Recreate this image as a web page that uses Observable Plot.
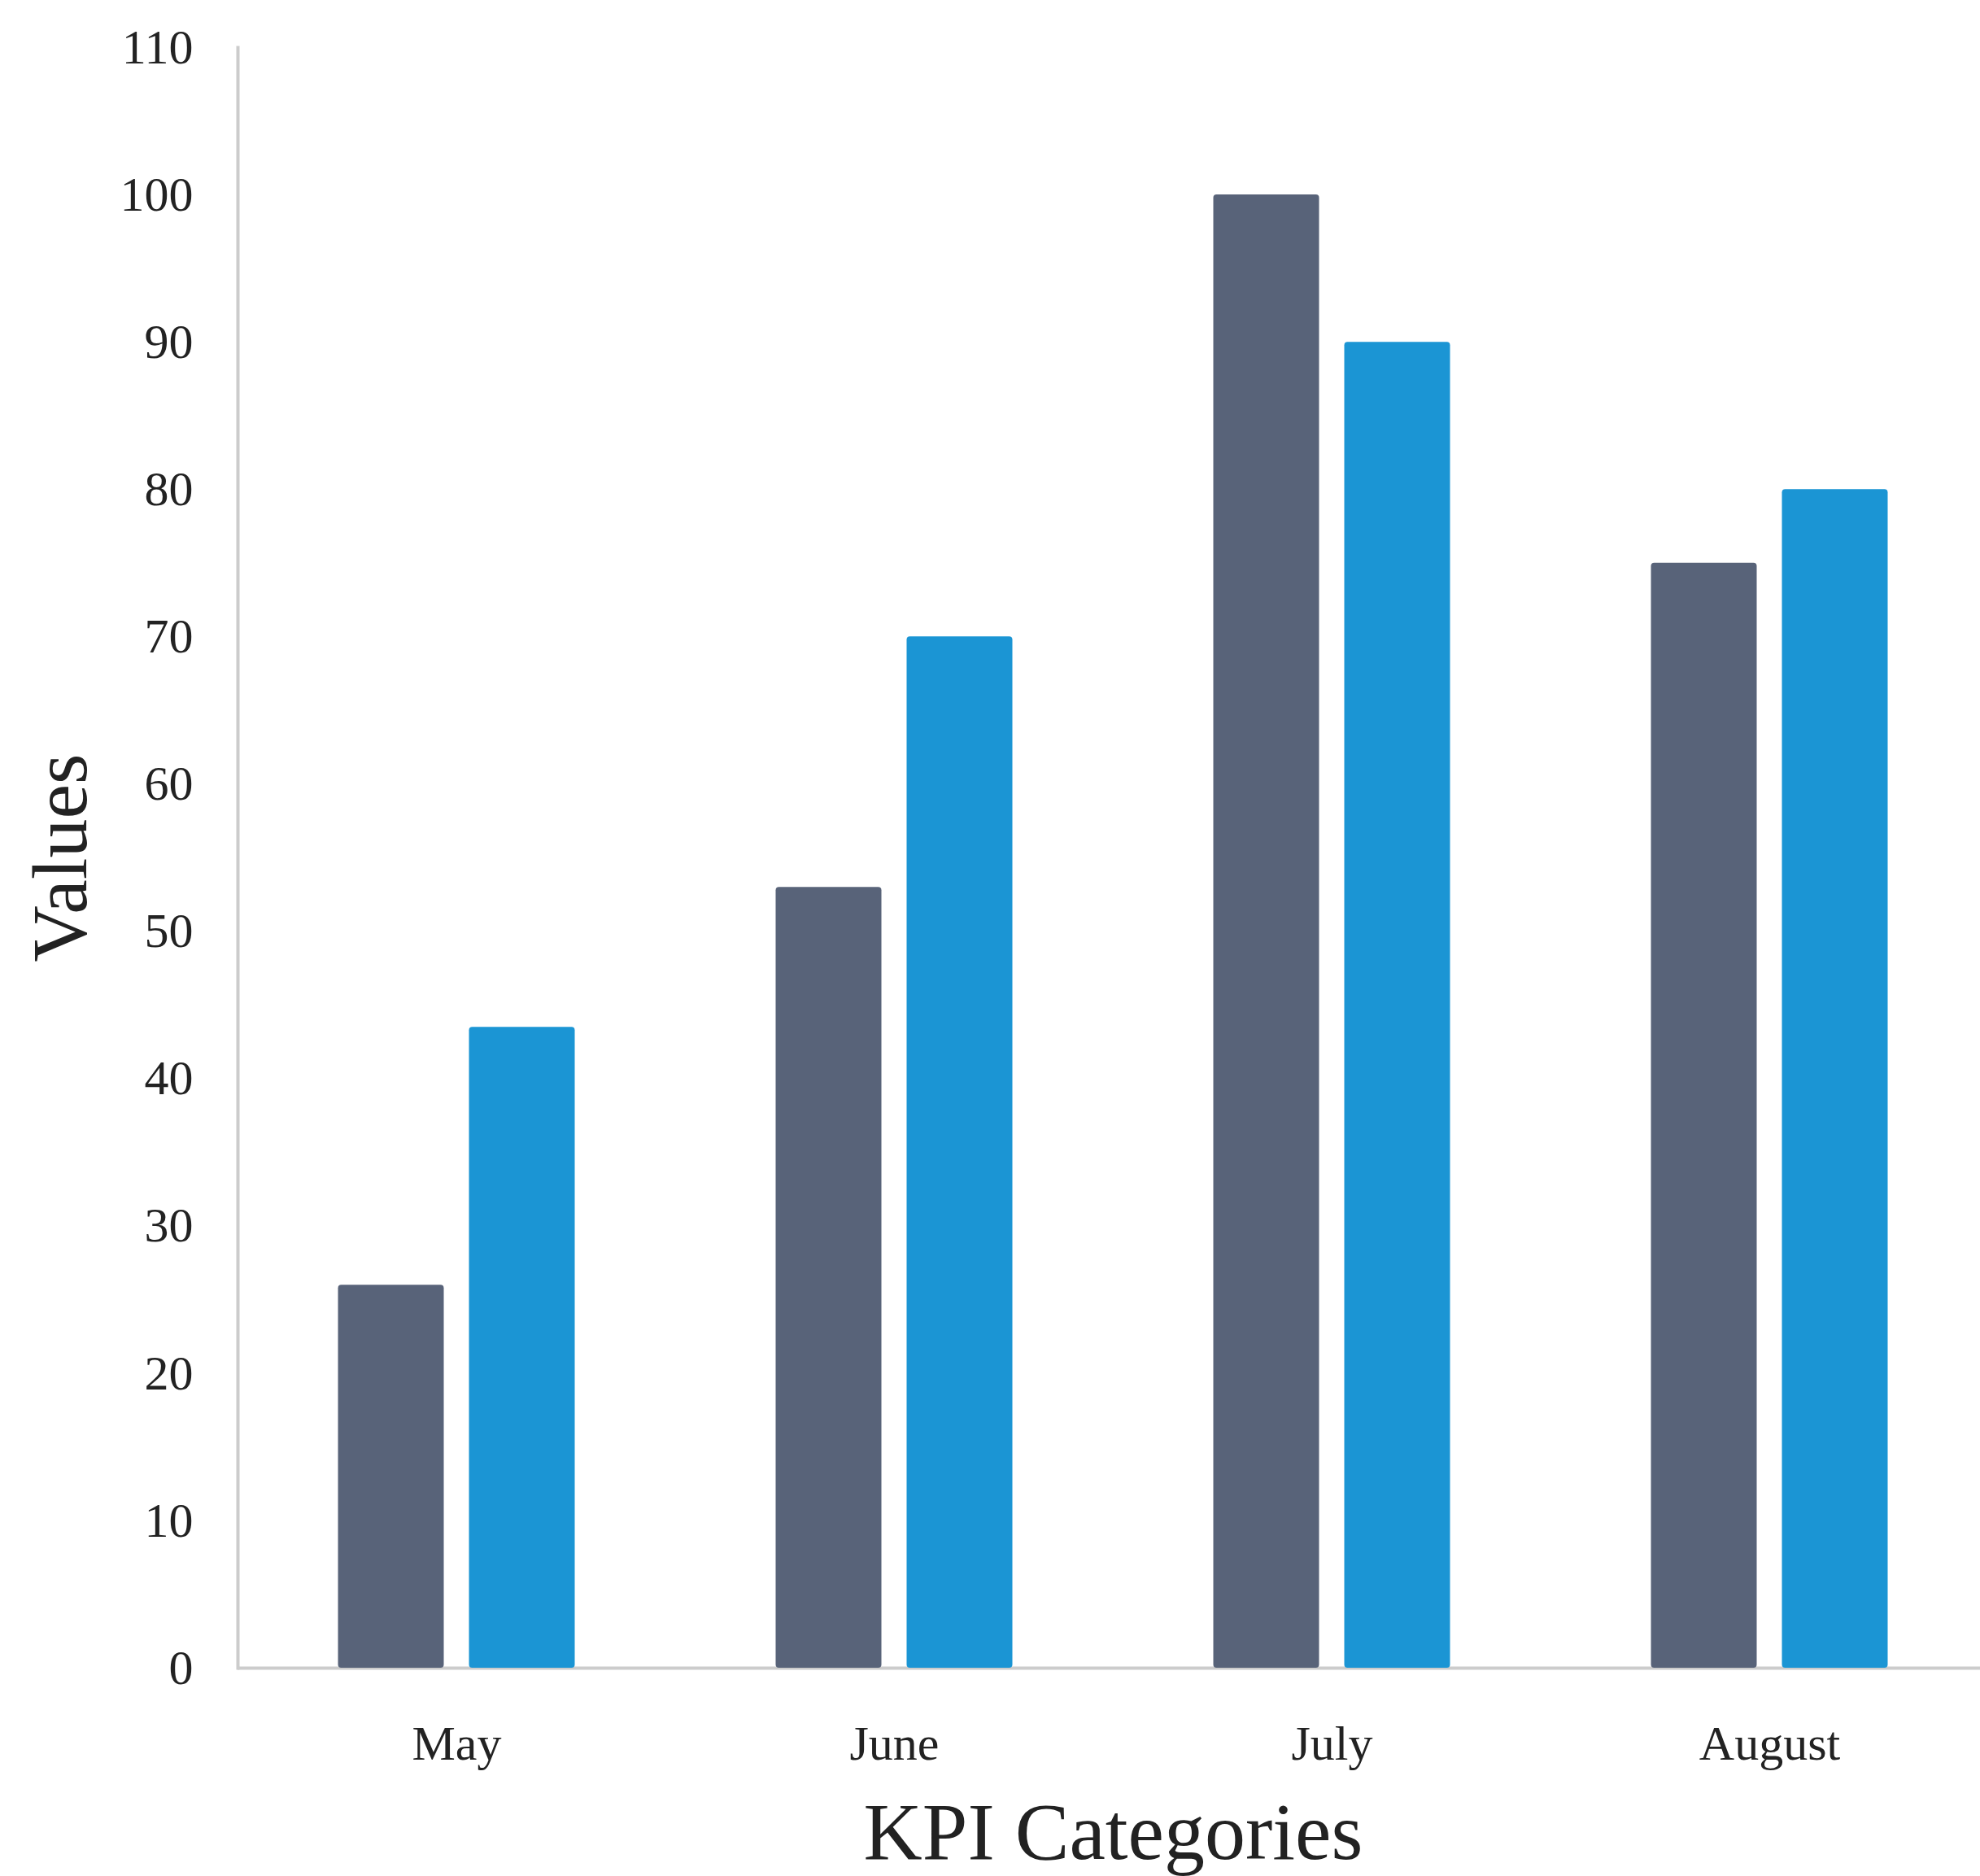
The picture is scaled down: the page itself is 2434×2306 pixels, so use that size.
<!DOCTYPE html>
<html>
<head>
<meta charset="utf-8">
<script src="https://cdn.jsdelivr.net/npm/d3@7"></script>
<script src="https://cdn.jsdelivr.net/npm/@observablehq/plot@0.6"></script>
<style>
  html, body { margin: 0; padding: 0; background: #ffffff; }
  svg { display: block; }
</style>
</head>
<body>
<div id="chart"></div>
<script>
// ---- data ----
const months = ["May", "June", "July", "August"];
const seriesDark = [26, 53, 100, 75];
const seriesBlue = [43.5, 70, 90, 80];
const yTicks = [0, 10, 20, 30, 40, 50, 60, 70, 80, 90, 100, 110];
const xTitle = "KPI Categories";
const yTitle = "Values";

// ---- layout ----
const W = 2434, H = 2306;
const mL = 292, mR = -10, mT = 58, mB = 256;
const step = (W - mL - mR) / months.length;
const barW = 130, gap = 31;
const axisColor = "#cccccc";
const darkColor = "#586379";
const blueColor = "#1b95d4";

const darkData = months.map((m, i) => ({month: m, value: seriesDark[i]}));
const blueData = months.map((m, i) => ({month: m, value: seriesBlue[i]}));

const chart = Plot.plot({
  width: W,
  height: H,
  marginLeft: mL,
  marginRight: mR,
  marginTop: mT,
  marginBottom: mB,
  style: {fontFamily: "'Liberation Serif', 'Times New Roman', serif", background: "#ffffff", color: "#222222"},
  x: {domain: months, padding: 0},
  y: {domain: [0, 110]},
  marks: [
    Plot.frame({anchor: "left", stroke: axisColor, strokeWidth: 4}),
    Plot.ruleY([0], {stroke: axisColor, strokeWidth: 4}),
    Plot.barY(darkData, {
      x: "month", y: "value", fill: darkColor, rx: 4,
      insetLeft: step / 2 - gap / 2 - barW, insetRight: step / 2 + gap / 2
    }),
    Plot.barY(blueData, {
      x: "month", y: "value", fill: blueColor, rx: 4,
      insetLeft: step / 2 + gap / 2, insetRight: step / 2 - gap / 2 - barW
    }),
    Plot.axisY({ticks: yTicks, tickSize: 0, tickPadding: 55, fontSize: 60, label: null, fill: "#222222"}),
    Plot.axisX({tickSize: 0, tickPadding: 70, fontSize: 60, label: null, fill: "#222222"}),
    Plot.text([xTitle], {frameAnchor: "bottom", textAnchor: "middle", lineAnchor: "bottom", dy: 234, fontSize: 100, fill: "#222222"}),
    Plot.text([yTitle], {frameAnchor: "left", textAnchor: "middle", lineAnchor: "middle", dx: -217, rotate: -90, fontSize: 96, fill: "#222222"})
  ]
});
document.getElementById("chart").appendChild(chart);
</script>
</body>
</html>
